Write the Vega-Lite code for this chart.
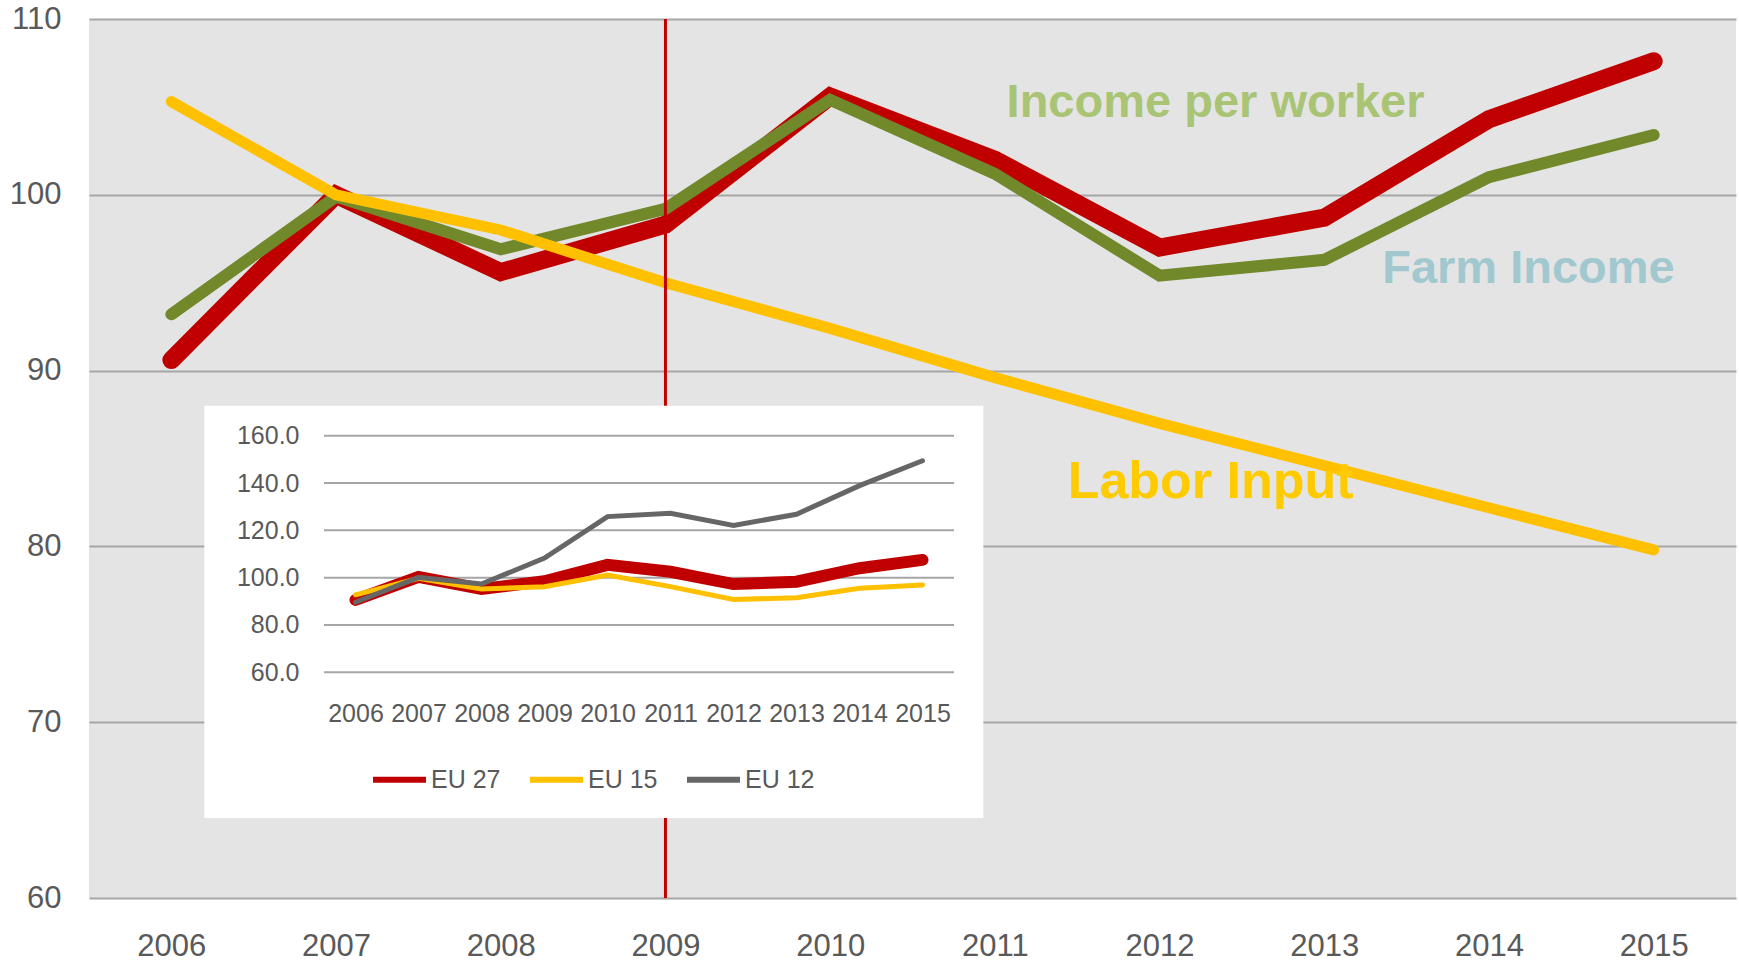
{
  "$schema": "https://vega.github.io/schema/vega-lite/v6.json",
  "width": 1647,
  "height": 879,
  "autosize": {"type": "none"},
  "padding": {"left": 89, "top": 19, "right": 3, "bottom": 63},
  "background": "#ffffff",
  "config": {
    "view": {"fill": "#e4e4e4", "stroke": null},
    "font": "Liberation Sans",
    "axis": {"labelFont": "Liberation Sans", "labelColor": "#595959", "title": null, "domain": false, "ticks": false},
    "legend": {"labelFont": "Liberation Sans"}
  },
  "datasets": {
    "main": [
      {"year": 2006, "series": "Income per worker", "value": 90.6},
      {"year": 2007, "series": "Income per worker", "value": 100.0},
      {"year": 2008, "series": "Income per worker", "value": 95.6},
      {"year": 2009, "series": "Income per worker", "value": 98.3},
      {"year": 2010, "series": "Income per worker", "value": 105.6},
      {"year": 2011, "series": "Income per worker", "value": 102.0},
      {"year": 2012, "series": "Income per worker", "value": 97.0},
      {"year": 2013, "series": "Income per worker", "value": 98.7},
      {"year": 2014, "series": "Income per worker", "value": 104.3},
      {"year": 2015, "series": "Income per worker", "value": 107.6},
      {"year": 2006, "series": "Farm Income", "value": 93.2},
      {"year": 2007, "series": "Farm Income", "value": 99.9},
      {"year": 2008, "series": "Farm Income", "value": 96.9},
      {"year": 2009, "series": "Farm Income", "value": 99.2},
      {"year": 2010, "series": "Farm Income", "value": 105.4},
      {"year": 2011, "series": "Farm Income", "value": 101.2},
      {"year": 2012, "series": "Farm Income", "value": 95.4},
      {"year": 2013, "series": "Farm Income", "value": 96.3},
      {"year": 2014, "series": "Farm Income", "value": 101.0},
      {"year": 2015, "series": "Farm Income", "value": 103.4},
      {"year": 2006, "series": "Labor Input", "value": 105.3},
      {"year": 2007, "series": "Labor Input", "value": 100.0},
      {"year": 2008, "series": "Labor Input", "value": 98.0},
      {"year": 2009, "series": "Labor Input", "value": 95.0},
      {"year": 2010, "series": "Labor Input", "value": 92.4},
      {"year": 2011, "series": "Labor Input", "value": 89.6},
      {"year": 2012, "series": "Labor Input", "value": 87.0},
      {"year": 2013, "series": "Labor Input", "value": 84.6},
      {"year": 2014, "series": "Labor Input", "value": 82.2},
      {"year": 2015, "series": "Labor Input", "value": 79.8}
    ],
    "labels": [
      {"label": "Income per worker", "year": 2012.34, "value": 104.41},
      {"label": "Farm Income", "year": 2014.24, "value": 94.97},
      {"label": "Labor Input", "year": 2012.31, "value": 82.74}
    ],
    "inset": [
      {"year": 2006, "region": "EU 27", "value": 90.6},
      {"year": 2007, "region": "EU 27", "value": 100.3},
      {"year": 2008, "region": "EU 27", "value": 95.2},
      {"year": 2009, "region": "EU 27", "value": 98.5},
      {"year": 2010, "region": "EU 27", "value": 105.4},
      {"year": 2011, "region": "EU 27", "value": 102.5},
      {"year": 2012, "region": "EU 27", "value": 97.3},
      {"year": 2013, "region": "EU 27", "value": 98.3},
      {"year": 2014, "region": "EU 27", "value": 104.0},
      {"year": 2015, "region": "EU 27", "value": 107.5},
      {"year": 2006, "region": "EU 15", "value": 92.7},
      {"year": 2007, "region": "EU 15", "value": 99.7},
      {"year": 2008, "region": "EU 15", "value": 95.2},
      {"year": 2009, "region": "EU 15", "value": 96.2},
      {"year": 2010, "region": "EU 15", "value": 101.1},
      {"year": 2011, "region": "EU 15", "value": 96.2},
      {"year": 2012, "region": "EU 15", "value": 90.8},
      {"year": 2013, "region": "EU 15", "value": 91.5},
      {"year": 2014, "region": "EU 15", "value": 95.5},
      {"year": 2015, "region": "EU 15", "value": 96.9},
      {"year": 2006, "region": "EU 12", "value": 89.6},
      {"year": 2007, "region": "EU 12", "value": 100.1},
      {"year": 2008, "region": "EU 12", "value": 97.3},
      {"year": 2009, "region": "EU 12", "value": 108.3},
      {"year": 2010, "region": "EU 12", "value": 125.8},
      {"year": 2011, "region": "EU 12", "value": 127.2},
      {"year": 2012, "region": "EU 12", "value": 122.1},
      {"year": 2013, "region": "EU 12", "value": 126.8},
      {"year": 2014, "region": "EU 12", "value": 138.9},
      {"year": 2015, "region": "EU 12", "value": 149.4}
    ],
    "insetGrid": [
      {"tick": 60}, {"tick": 80}, {"tick": 100}, {"tick": 120}, {"tick": 140}, {"tick": 160}
    ],
    "marker": [
      {"year": 2009}
    ],
    "insetBox": [
      {"name": "inset panel"}
    ]
  },
  "layer": [
    {
      "layer": [
        {
          "data": {"name": "main"},
          "transform": [{"filter": "datum.series === 'Income per worker'"}],
          "mark": {"type": "line", "color": "#c00000", "strokeWidth": 18, "strokeCap": "round", "strokeJoin": "miter"},
          "encoding": {
            "x": {
              "field": "year", "type": "quantitative",
              "scale": {"domain": [2005.5, 2015.5], "nice": false, "zero": false},
              "axis": {"orient": "bottom", "values": [2006, 2007, 2008, 2009, 2010, 2011, 2012, 2013, 2014, 2015], "format": "d", "grid": false, "labelFontSize": 31, "labelPadding": 33, "labelOverlap": false, "labelFlush": false}
            },
            "y": {
              "field": "value", "type": "quantitative",
              "scale": {"domain": [60, 110], "nice": false, "zero": false},
              "axis": {"orient": "left", "values": [60, 70, 80, 90, 100, 110], "format": "d", "grid": true, "gridColor": "#a6a6a6", "gridWidth": 2, "labelFontSize": 31, "labelPadding": 28}
            }
          }
        },
        {
          "data": {"name": "main"},
          "transform": [{"filter": "datum.series === 'Farm Income'"}],
          "mark": {"type": "line", "color": "#71892b", "strokeWidth": 12, "strokeCap": "round", "strokeJoin": "miter"},
          "encoding": {
            "x": {"field": "year", "type": "quantitative"},
            "y": {"field": "value", "type": "quantitative"}
          }
        },
        {
          "data": {"name": "main"},
          "transform": [{"filter": "datum.series === 'Labor Input'"}],
          "mark": {"type": "line", "color": "#ffc000", "strokeWidth": 11, "strokeCap": "round", "strokeJoin": "miter"},
          "encoding": {
            "x": {"field": "year", "type": "quantitative"},
            "y": {"field": "value", "type": "quantitative"}
          }
        },
        {
          "data": {"name": "marker"},
          "mark": {"type": "rule", "color": "#c00000", "strokeWidth": 3},
          "encoding": {
            "x": {"field": "year", "type": "quantitative"}
          }
        },
        {
          "data": {"name": "labels"},
          "transform": [{"filter": "datum.label === 'Income per worker'"}],
          "mark": {"type": "text", "color": "#a9c474", "fontSize": 47, "fontWeight": "bold", "align": "center", "baseline": "alphabetic"},
          "encoding": {
            "x": {"field": "year", "type": "quantitative"},
            "y": {"field": "value", "type": "quantitative"},
            "text": {"field": "label"}
          }
        },
        {
          "data": {"name": "labels"},
          "transform": [{"filter": "datum.label === 'Farm Income'"}],
          "mark": {"type": "text", "color": "#a2c8cf", "fontSize": 47, "fontWeight": "bold", "align": "center", "baseline": "alphabetic"},
          "encoding": {
            "x": {"field": "year", "type": "quantitative"},
            "y": {"field": "value", "type": "quantitative"},
            "text": {"field": "label"}
          }
        },
        {
          "data": {"name": "labels"},
          "transform": [{"filter": "datum.label === 'Labor Input'"}],
          "mark": {"type": "text", "color": "#fecb00", "fontSize": 52, "fontWeight": "bold", "align": "center", "baseline": "alphabetic"},
          "encoding": {
            "x": {"field": "year", "type": "quantitative"},
            "y": {"field": "value", "type": "quantitative"},
            "text": {"field": "label"}
          }
        },
        {
          "data": {"name": "insetBox"},
          "mark": {"type": "rect", "color": "#ffffff"},
          "encoding": {
            "x": {"datum": 2006.2, "type": "quantitative"},
            "x2": {"datum": 2010.93},
            "y": {"datum": 88.0, "type": "quantitative"},
            "y2": {"datum": 64.55}
          }
        }
      ]
    },
    {
      "layer": [
        {
          "data": {"name": "insetGrid"},
          "mark": {"type": "rule", "color": "#a6a6a6", "strokeWidth": 2},
          "encoding": {
            "x": {
              "datum": 2005.5, "type": "quantitative",
              "scale": {"domain": [2005.5, 2015.5], "range": [235, 865], "nice": false, "zero": false},
              "axis": {"orient": "bottom", "offset": -225.7, "values": [2006, 2007, 2008, 2009, 2010, 2011, 2012, 2013, 2014, 2015], "format": "d", "grid": false, "labelFontSize": 25, "labelPadding": 29, "labelOverlap": false, "labelFlush": false, "zindex": 1}
            },
            "x2": {"datum": 2015.5},
            "y": {
              "field": "tick", "type": "quantitative",
              "scale": {"domain": [60, 160], "range": [653.3, 416.7], "nice": false, "zero": false},
              "axis": {"orient": "left", "offset": -235, "values": [60, 80, 100, 120, 140, 160], "format": ".1f", "grid": false, "labelFontSize": 25, "labelPadding": 25, "zindex": 1}
            }
          }
        },
        {
          "data": {"name": "inset"},
          "transform": [{"filter": "datum.region === 'EU 27'"}],
          "mark": {"type": "line", "strokeWidth": 12, "strokeCap": "round", "strokeJoin": "miter"},
          "encoding": {
            "x": {"field": "year", "type": "quantitative"},
            "y": {"field": "value", "type": "quantitative"},
            "color": {
              "field": "region", "type": "nominal",
              "scale": {"domain": ["EU 27", "EU 15", "EU 12"], "range": ["#c00000", "#ffc000", "#666666"]},
              "legend": {"orient": "none", "legendX": 281, "legendY": 731, "direction": "horizontal", "title": null, "symbolType": "stroke", "symbolSize": 2809, "symbolStrokeWidth": 6, "labelFontSize": 25, "labelColor": "#595959", "labelOffset": 2, "columnPadding": 17, "padding": 0}
            }
          }
        },
        {
          "data": {"name": "inset"},
          "transform": [{"filter": "datum.region === 'EU 15'"}],
          "mark": {"type": "line", "strokeWidth": 5, "strokeCap": "round", "strokeJoin": "miter"},
          "encoding": {
            "x": {"field": "year", "type": "quantitative"},
            "y": {"field": "value", "type": "quantitative"},
            "color": {"field": "region", "type": "nominal"}
          }
        },
        {
          "data": {"name": "inset"},
          "transform": [{"filter": "datum.region === 'EU 12'"}],
          "mark": {"type": "line", "strokeWidth": 5, "strokeCap": "round", "strokeJoin": "miter"},
          "encoding": {
            "x": {"field": "year", "type": "quantitative"},
            "y": {"field": "value", "type": "quantitative"},
            "color": {"field": "region", "type": "nominal"}
          }
        }
      ]
    }
  ],
  "resolve": {"scale": {"x": "independent", "y": "independent"}}
}
